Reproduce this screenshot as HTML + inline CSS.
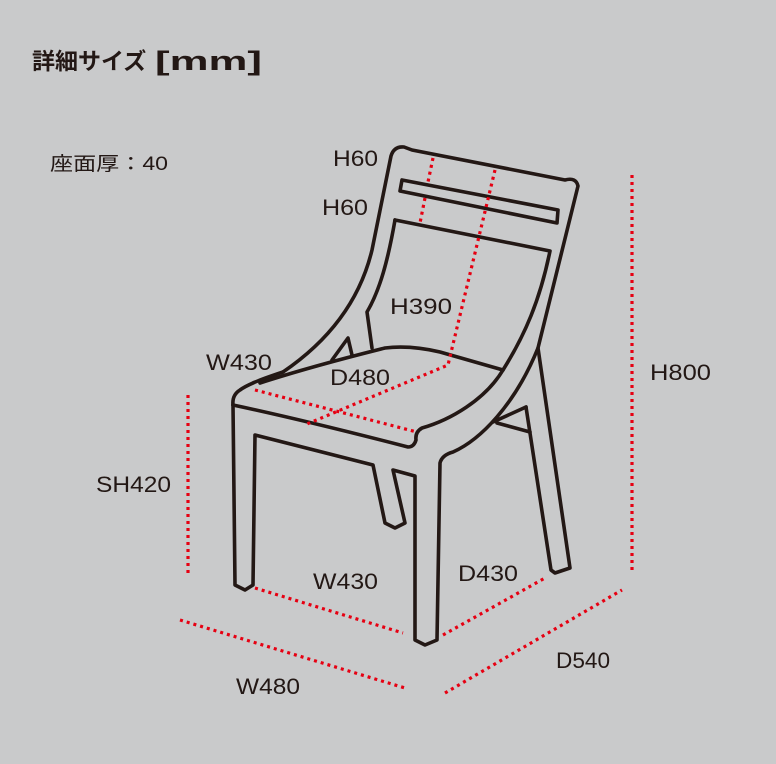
<!DOCTYPE html>
<html><head><meta charset="utf-8"><style>
html,body{margin:0;padding:0;background:#c9cacb;}
svg{display:block}
text{font-family:"Liberation Sans","Noto Sans CJK JP",sans-serif;fill:#231815;}
</style></head><body>
<svg width="776" height="764" viewBox="0 0 776 764" xmlns="http://www.w3.org/2000/svg">
<rect width="776" height="764" fill="#c9cacb"/>
<text x="32" y="69" font-size="23" font-weight="bold">詳細サイズ</text>
<text x="155" y="70" font-size="27" font-weight="bold" textLength="107" lengthAdjust="spacingAndGlyphs">[mm]</text>
<text x="50" y="170" font-size="19" textLength="118" lengthAdjust="spacingAndGlyphs">座面厚：40</text>
<g fill="none" stroke="#231815" stroke-width="3.6" stroke-linejoin="round" stroke-linecap="round">
<path d="M283,372 C330,340 360,300 372,250 L391,156 Q394,146 404,147 L412,150 L565,180 Q576,177 578,186 L538,348 L570,568 L555,573 L551,570 L526,407"/>
<path d="M283,372 C265,378 248,384 240,390 Q232,395 233,405"/>
<path d="M402,180 L558,210 L557,223 L400,191 Z"/>
<path d="M395,220 L550,251 C540,300 525,335 503,370"/>
<path d="M395,220 C388,260 380,290 367,312 L372,348"/>
<path d="M260,383 C300,370 345,358 385,348 Q410,345 440,352 L503,370 C485,400 450,420 422,428 Q415,432 416,440 Q414,447 408,447 C350,432 280,415 233,405"/>
<path d="M332,360 L348,338 L352,355"/>
<path d="M233,405 L235,585 L245,590 L253,585 L255,435 L373,465 L385,523 L395,528 L405,523 L393,470 L415,476 L415,640 L425,645 L437,640 L440,463 Q442,455 453,452 C480,440 515,405 538,348"/>
<path d="M493,422 L526,407 M497,423 L530,432"/>
</g>
<g fill="none" stroke="#e60012" stroke-width="3.2" stroke-dasharray="3 4">
<path d="M433,158 L428,182"/>
<path d="M425,198 L420,223"/>
<path d="M495,170 L448,365 L307,424"/>
<path d="M255,390 L417,432"/>
<path d="M188,395 L188,576"/>
<path d="M632,175 L632,570"/>
<path d="M255,588 L403,633"/>
<path d="M443,635 L545,578"/>
<path d="M180,620 L405,688"/>
<path d="M445,693 L622,590"/>
</g>
<g font-size="22">
<text x="333" y="166" textLength="45" lengthAdjust="spacingAndGlyphs">H60</text>
<text x="322" y="215" textLength="46" lengthAdjust="spacingAndGlyphs">H60</text>
<text x="390" y="314" textLength="62" lengthAdjust="spacingAndGlyphs">H390</text>
<text x="206" y="370" textLength="66" lengthAdjust="spacingAndGlyphs">W430</text>
<text x="330" y="385" textLength="60" lengthAdjust="spacingAndGlyphs">D480</text>
<text x="650" y="380" textLength="61" lengthAdjust="spacingAndGlyphs">H800</text>
<text x="96" y="492" textLength="75" lengthAdjust="spacingAndGlyphs">SH420</text>
<text x="313" y="589" textLength="65" lengthAdjust="spacingAndGlyphs">W430</text>
<text x="458" y="581" textLength="60" lengthAdjust="spacingAndGlyphs">D430</text>
<text x="556" y="668" textLength="54" lengthAdjust="spacingAndGlyphs">D540</text>
<text x="236" y="694" textLength="64" lengthAdjust="spacingAndGlyphs">W480</text>
</g>
</svg>
</body></html>
